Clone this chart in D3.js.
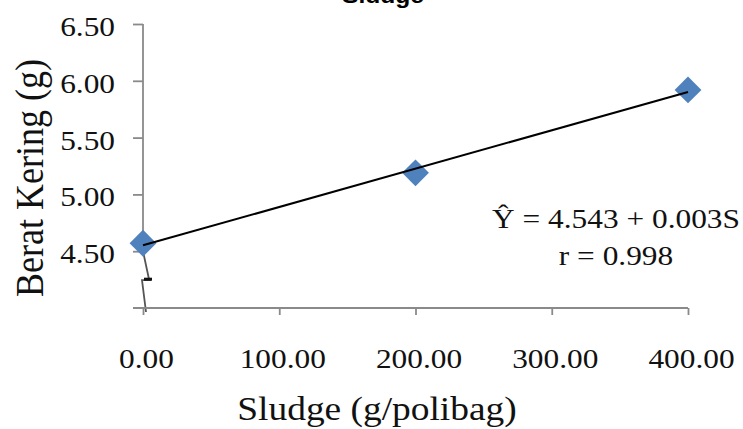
<!DOCTYPE html>
<html>
<head>
<meta charset="utf-8">
<script src="https://cdn.jsdelivr.net/npm/d3@7"></script>
<style>
  body { margin: 0; background: #fff; }
  svg { display: block; }
  .serif { font-family: "Liberation Serif", "Times New Roman", serif; fill: #111; }
</style>
</head>
<body>
<svg id="chart" width="743" height="429"></svg>
<script>
// data
var sludge = [0, 200, 400];
var berat = [4.57, 5.19, 5.92];
var xTicks = [0, 100, 200, 300, 400];
var yTicks = [4.5, 5.0, 5.5, 6.0, 6.5];
var eqLines = ["\u0176 = 4.543 + 0.003S", "r = 0.998"];
var chartTitle = "Sludge";
var xTitle = "Sludge (g/polibag)";
var yTitle = "Berat Kering (g)";

var svg = d3.select('#chart');
var margin = {top: 24, right: 55, bottom: 121, left: 143};
var W = 743, H = 429;
var axisCol = "#8a8a8a";
var sx = 1.12; // the picture is a bit wider than tall

var x = d3.scaleLinear().domain([0, 400]).range([margin.left, W - margin.right]);
var y = d3.scaleLinear().domain([4.0, 6.5]).range([H - margin.bottom, margin.top]);

// title, mostly cut off at the top
svg.append("text")
    .text(chartTitle)
    .attr("transform", "translate(383,3) scale(" + sx + ",1)")
    .attr("text-anchor", "middle")
    .attr("font-family", "Liberation Sans, Arial, sans-serif")
    .attr("font-weight", "bold")
    .attr("font-size", 22)
    .attr("fill", "#000");

// y axis
var yAxis = svg.append("g")
    .attr("transform", "translate(" + x(0) + ",0)")
    .call(d3.axisLeft(y).tickValues(yTicks).tickSize(10).tickFormat(d3.format(".2f")));
yAxis.select(".domain").remove();
yAxis.selectAll(".tick line").attr("stroke", axisCol).attr("stroke-width", 1.8);
yAxis.selectAll(".tick text")
    .attr("class", "serif")
    .attr("x", 0).attr("dy", null)
    .attr("dominant-baseline", "central")
    .attr("transform", "translate(-28,2) scale(" + sx + ",1)")
    .attr("font-size", 28)
    .attr("fill", "#111");

// y axis line with break
var x0 = x(0), yb = y(4.5), yBottom = y(4.0);
svg.append("line")
    .attr("x1", x0).attr("x2", x0)
    .attr("y1", y(6.5)).attr("y2", yb)
    .attr("stroke", axisCol).attr("stroke-width", 1.8);
svg.append("path")
    .attr("d", "M" + x0 + "," + yb + " L" + (x0 + 6) + "," + (yb + 28)
        + " M" + (x0 + 8) + "," + (yb + 29) + " L" + (x0 - 1) + "," + (yb + 29)
        + " L" + (x0 + 3) + "," + (yBottom + 4))
    .attr("fill", "none")
    .attr("stroke", "#555").attr("stroke-width", 1.8);
svg.append("line")
    .attr("x1", x0 + 1).attr("x2", x0 + 9)
    .attr("y1", yb + 28).attr("y2", yb + 28)
    .attr("stroke", "#111").attr("stroke-width", 3);

// x axis
var xAxis = svg.append("g")
    .attr("transform", "translate(0," + yBottom + ")")
    .call(d3.axisBottom(x).tickValues(xTicks).tickSize(7).tickFormat(d3.format(".2f")));
xAxis.select(".domain").remove();
xAxis.selectAll(".tick line").attr("stroke", axisCol).attr("stroke-width", 1.8);
xAxis.selectAll(".tick text")
    .attr("class", "serif")
    .attr("y", 0).attr("dy", null)
    .attr("transform", "translate(3,60) scale(" + sx + ",1)")
    .attr("font-size", 28)
    .attr("fill", "#111");
svg.append("line")
    .attr("x1", x0 - 10).attr("x2", x(400))
    .attr("y1", yBottom).attr("y2", yBottom)
    .attr("stroke", axisCol).attr("stroke-width", 1.8);

// points
svg.selectAll(".pt")
    .data(sludge)
    .enter().append("path")
    .attr("class", "pt")
    .attr("d", d3.symbol().type(d3.symbolSquare).size(360))
    .attr("transform", function(d, i) { return "translate(" + x(d) + "," + y(berat[i]) + ") rotate(45)"; })
    .attr("fill", "#4F81BD");

// least squares trend line
var mx = d3.mean(sludge), my = d3.mean(berat);
var sxy = d3.sum(sludge, function(d, i) { return (d - mx) * (berat[i] - my); });
var sxx = d3.sum(sludge, function(d) { return (d - mx) * (d - mx); });
var slope = sxy / sxx, icpt = my - slope * mx;
svg.append("line")
    .attr("x1", x(0)).attr("y1", y(icpt))
    .attr("x2", x(400)).attr("y2", y(icpt + slope * 400))
    .attr("stroke", "#000").attr("stroke-width", 2);

// equation
svg.selectAll(".eq")
    .data(eqLines)
    .enter().append("text")
    .attr("class", "serif eq")
    .text(function(d) { return d; })
    .attr("transform", function(d, i) { return "translate(616," + (228 + i * 37) + ") scale(" + sx + ",1)"; })
    .attr("text-anchor", "middle")
    .attr("font-size", 28);

// axis titles
svg.append("text")
    .attr("class", "serif")
    .text(xTitle)
    .attr("transform", "translate(377,420) scale(1.1,1)")
    .attr("text-anchor", "middle")
    .attr("font-size", 34);

svg.append("text")
    .attr("class", "serif")
    .text(yTitle)
    .attr("transform", "translate(43,178) scale(1.1,1) rotate(-90)")
    .attr("text-anchor", "middle")
    .attr("font-size", 36);
</script>
</body>
</html>
